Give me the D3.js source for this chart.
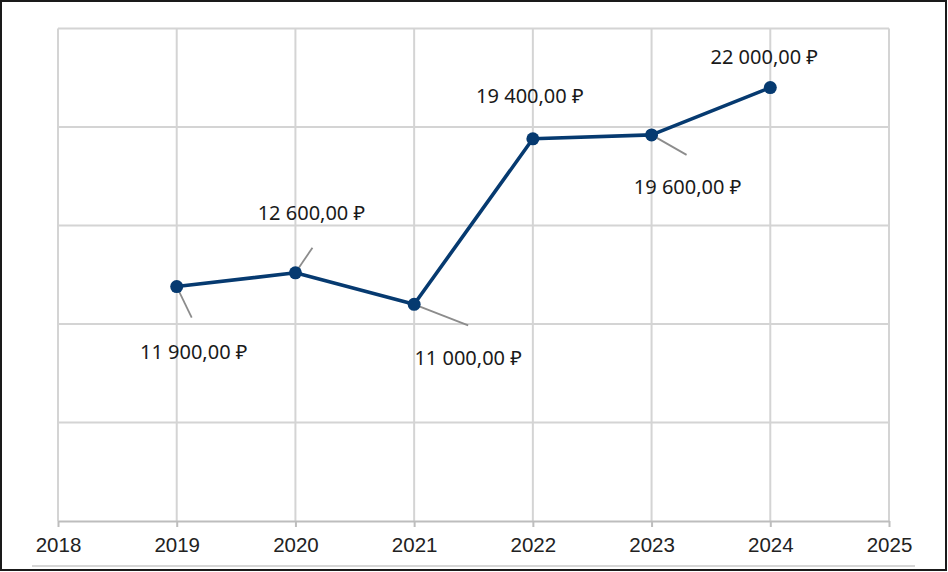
<!DOCTYPE html>
<html>
<head>
<meta charset="utf-8">
<script src="https://cdn.jsdelivr.net/npm/d3@7"></script>
<style>
  body { margin: 0; background: #fff; }
  svg { display: block; }
</style>
</head>
<body>
<svg id="chart" width="948" height="572"></svg>
<script>
  // chart data
  var years = [2019, 2020, 2021, 2022, 2023, 2024];
  var prices = [11900, 12600, 11000, 19400, 19600, 22000];
  var yearTicks = [2018, 2019, 2020, 2021, 2022, 2023, 2024, 2025];
  var priceGrid = [0, 5000, 10000, 15000, 20000, 25000];

  // where each data label sits relative to its point (dx, dy of label centre)
  var labelOffsets = [[17, 65], [16, -60], [54, 53], [-3, -43], [36, 52], [-6, -31]];
  // leader line ends (null = no leader)
  var leaderEnds = [[15, 31], [17, -25], [54, 21], null, [35, 20], null];

  var width = 948, height = 572;
  var svg = d3.select('#chart');

  var x = d3.scaleLinear().domain([2018, 2025]).range([58, 889]);
  var y = d3.scaleLinear().domain([0, 25000]).range([521, 28.5]);

  var ru = d3.formatLocale({
    decimal: ',',
    thousands: '\u00a0',
    grouping: [3],
    currency: ['', '\u00a0\u20bd']
  });
  var fmt = ru.format('$,.2f');

  var points = years.map(function (yr, i) {
    return { year: yr, price: prices[i], off: labelOffsets[i], lead: leaderEnds[i] };
  });

  // outer frame
  svg.append('rect')
    .attr('x', 1).attr('y', 1)
    .attr('width', width - 3).attr('height', height - 3)
    .attr('fill', '#fff')
    .attr('stroke', '#1a1a1a')
    .attr('stroke-width', 2);

  // horizontal grid
  svg.append('g')
    .selectAll('line')
    .data(priceGrid.slice(1))
    .enter()
    .append('line')
    .attr('x1', x(2018)).attr('x2', x(2025))
    .attr('y1', function (d) { return y(d); })
    .attr('y2', function (d) { return y(d); })
    .attr('stroke', '#d4d4d4')
    .attr('stroke-width', 2);

  // vertical grid
  svg.append('g')
    .selectAll('line')
    .data(yearTicks)
    .enter()
    .append('line')
    .attr('x1', function (d) { return x(d); })
    .attr('x2', function (d) { return x(d); })
    .attr('y1', y(25000)).attr('y2', y(0))
    .attr('stroke', '#d4d4d4')
    .attr('stroke-width', 2);

  // x axis
  var xAxis = d3.axisBottom(x)
    .tickValues(yearTicks)
    .tickFormat(d3.format('d'))
    .tickSizeInner(6)
    .tickSizeOuter(0)
    .tickPadding(10);

  var gx = svg.append('g')
    .attr('transform', 'translate(0,' + y(0) + ')')
    .call(xAxis);
  gx.select('.domain').attr('stroke', '#bdbdbd').attr('stroke-width', 2);
  gx.selectAll('.tick line').attr('stroke', '#bdbdbd').attr('stroke-width', 2);
  gx.selectAll('.tick text')
    .attr('fill', '#222')
    .style('font-family', 'Liberation Sans, Arial, sans-serif')
    .style('font-size', '20.5px');

  // line under the axis labels
  svg.append('line')
    .attr('x1', 32).attr('x2', 915)
    .attr('y1', 566).attr('y2', 566)
    .attr('stroke', '#d6d6d6')
    .attr('stroke-width', 2);

  // leader lines
  svg.append('g')
    .selectAll('line')
    .data(points.filter(function (d) { return d.lead; }))
    .enter()
    .append('line')
    .attr('x1', function (d) { return x(d.year); })
    .attr('y1', function (d) { return y(d.price); })
    .attr('x2', function (d) { return x(d.year) + d.lead[0]; })
    .attr('y2', function (d) { return y(d.price) + d.lead[1]; })
    .attr('stroke', '#8c8c8c')
    .attr('stroke-width', 1.8);

  // series line
  var line = d3.line()
    .x(function (d) { return x(d.year); })
    .y(function (d) { return y(d.price); });

  svg.append('path')
    .datum(points)
    .attr('d', line)
    .attr('fill', 'none')
    .attr('stroke', '#063a70')
    .attr('stroke-width', 3.6)
    .attr('stroke-linejoin', 'round');

  svg.append('g')
    .selectAll('circle')
    .data(points)
    .enter()
    .append('circle')
    .attr('cx', function (d) { return x(d.year); })
    .attr('cy', function (d) { return y(d.price); })
    .attr('r', 6.5)
    .attr('fill', '#063a70');

  // data labels
  svg.append('g')
    .selectAll('text')
    .data(points)
    .enter()
    .append('text')
    .attr('x', function (d) { return x(d.year) + d.off[0]; })
    .attr('y', function (d) { return y(d.price) + d.off[1]; })
    .attr('text-anchor', 'middle')
    .attr('dominant-baseline', 'central')
    .attr('fill', '#1a1a1a')
    .style('font-family', 'Noto Sans, sans-serif')
    .style('font-size', '20px')
    .text(function (d) { return fmt(d.price); });
</script>
</body>
</html>
